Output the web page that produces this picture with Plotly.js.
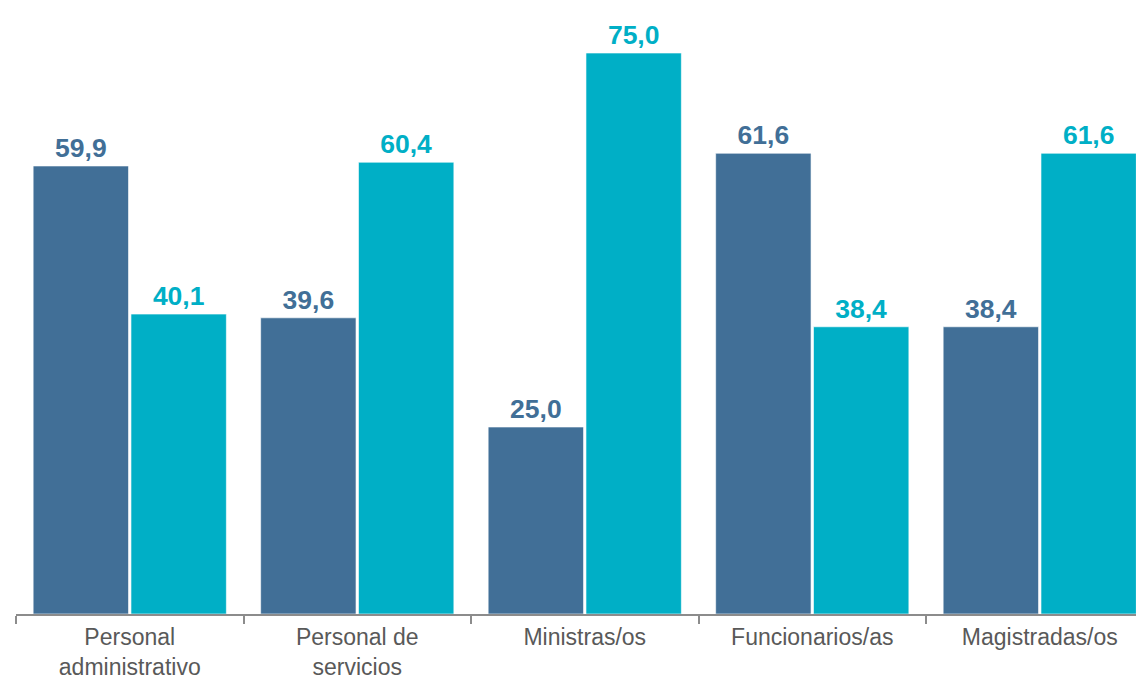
<!DOCTYPE html>
<html>
<head>
<meta charset="utf-8">
<script src="https://cdn.plot.ly/plotly-3.0.1.min.js"></script>
<style>html,body{margin:0;padding:0;background:#fff;overflow:hidden}#chart{width:1136px;height:680px}</style>
</head>
<body>
<div id="chart"></div>
<script>
const categories = ["Personal<br>administrativo", "Personal de<br>servicios", "Ministras/os", "Funcionarios/as", "Magistradas/os"];
const seriesA = [59.9, 39.6, 25.0, 61.6, 38.4];
const seriesB = [40.1, 60.4, 75.0, 38.4, 61.6];
const nameA = "Mujeres";
const nameB = "Hombres";
const colorA = "#416F97";
const colorB = "#00AFC6";

const mk = (name, y, color) => ({
  type: "bar", name: name, x: categories, y: y,
  marker: {color: color, line: {color: "rgba(255,255,255,0.6)", width: 1}},
  texttemplate: "%{y:.1f}", textposition: "outside", cliponaxis: false,
  textfont: {family: "Liberation Sans, Arial, sans-serif", size: 26.5, color: color, weight: "bold"},
  hoverinfo: "none"
});

Plotly.newPlot("chart", [mk(nameA, seriesA, colorA), mk(nameB, seriesB, colorB)], {
  width: 1136, height: 680,
  margin: {l: 16, r: 0, t: 0, b: 66},
  separators: ",.",
  barmode: "group", bargap: 0.14, bargroupgap: 0.025,
  showlegend: false,
  paper_bgcolor: "#fff", plot_bgcolor: "#fff",
  font: {family: "Liberation Sans, Arial, sans-serif"},
  xaxis: {
    type: "category", range: [-0.5, 4.423], tickson: "boundaries",
    ticks: "outside", ticklen: 8, tickwidth: 2, tickcolor: "#8C8C8C",
    showline: true, linecolor: "#8C8C8C", linewidth: 2,
    ticklabelstandoff: 1,
    tickfont: {size: 23, color: "#595959"}, showgrid: false, fixedrange: true
  },
  yaxis: {range: [0, 82.09], visible: false, showgrid: false, zeroline: false, fixedrange: true}
}, {displayModeBar: false, staticPlot: true});
</script>
</body>
</html>
